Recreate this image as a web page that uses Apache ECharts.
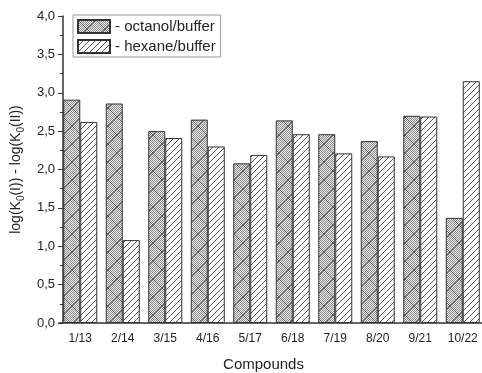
<!DOCTYPE html>
<html>
<head>
<meta charset="utf-8">
<script src="https://cdn.jsdelivr.net/npm/echarts@6/dist/echarts.min.js"></script>
<style>
  html, body { margin: 0; padding: 0; background: #fff; }
  #chart { width: 482px; height: 373px; }
</style>
</head>
<body>
<div id="chart"></div>
<script>
const categories = ['1/13', '2/14', '3/15', '4/16', '5/17', '6/18', '7/19', '8/20', '9/21', '10/22'];
const octanol = [2.91, 2.86, 2.50, 2.65, 2.08, 2.64, 2.46, 2.37, 2.70, 1.37];
const hexane = [2.62, 1.08, 2.41, 2.30, 2.19, 2.46, 2.21, 2.17, 2.69, 3.15];
const seriesNames = ['- octanol/buffer', '- hexane/buffer'];

// fill patterns drawn on small canvas tiles
function crossTile() {
    const c = document.createElement('canvas');
    c.width = 18; c.height = 18;
    const g = c.getContext('2d');
    g.fillStyle = '#ececec';
    g.fillRect(0, 0, 18, 18);
    g.fillStyle = '#8c8c8c';
    for (let y = 0; y < 18; y++) {
        for (let x = 0; x < 18; x++) {
            if ((x + y) % 2 === 0) g.fillRect(x, y, 1, 1);
        }
    }
    g.strokeStyle = '#444';
    g.lineWidth = 0.8;
    g.beginPath();
    g.moveTo(-1, -1); g.lineTo(19, 19);
    g.moveTo(-1, 19); g.lineTo(19, -1);
    g.stroke();
    return c;
}

function hatchTile() {
    const c = document.createElement('canvas');
    c.width = 6; c.height = 6;
    const g = c.getContext('2d');
    g.fillStyle = '#fff';
    g.fillRect(0, 0, 6, 6);
    g.strokeStyle = '#555';
    g.lineWidth = 1;
    g.beginPath();
    g.moveTo(-1, 7); g.lineTo(7, -1);
    g.moveTo(-1, 1); g.lineTo(1, -1);
    g.moveTo(5, 7); g.lineTo(7, 5);
    g.stroke();
    return c;
}

var chartDom = document.getElementById('chart');
var myChart = echarts.init(chartDom);
var option;

option = {
    animation: false,
    textStyle: { fontFamily: 'Liberation Sans, Arial, sans-serif', color: '#222' },
    grid: {
        left: 59,
        right: -2,
        top: 16,
        bottom: 50,
        outerBoundsMode: 'none'
    },
    legend: {
        orient: 'vertical',
        left: 73,
        top: 15,
        padding: [4, 5, 3, 4],
        itemGap: 5,
        itemWidth: 32,
        itemHeight: 13,
        icon: 'rect',
        borderColor: '#999',
        borderWidth: 1,
        textStyle: { fontSize: 15, color: '#222' },
        data: seriesNames
    },
    xAxis: [
        {
            type: 'category',
            data: categories,
            position: 'bottom',
            name: 'Compounds',
            nameLocation: 'middle',
            nameGap: 34,
            nameTextStyle: { fontSize: 15, color: '#222', padding: [0, 16, 0, 0] },
            axisLine: { lineStyle: { color: '#333', width: 1.5 } },
            axisTick: { length: 3, lineStyle: { color: '#333' } },
            axisLabel: { fontSize: 12, color: '#222', margin: 10 }
        },
        {
            type: 'category',
            data: categories,
            position: 'bottom',
            axisLine: { show: false },
            axisTick: { alignWithLabel: true, length: 5, lineStyle: { color: '#333' } },
            axisLabel: { show: false }
        }
    ],
    yAxis: {
        type: 'value',
        min: 0,
        max: 4,
        interval: 0.5,
        offset: -4,
        name: '{a|log(K}{s|0}{a|(I)) - log(K}{s|0}{a|(II))}',
        nameLocation: 'middle',
        nameGap: 35,
        nameTextStyle: {
            rich: {
                a: { fontSize: 14, color: '#222', lineHeight: 20, verticalAlign: 'middle' },
                s: { fontSize: 10, color: '#222', lineHeight: 10, verticalAlign: 'bottom' }
            }
        },
        splitLine: { show: false },
        axisLine: { show: true, lineStyle: { color: '#333', width: 1.5 } },
        axisTick: { show: true, length: 5, lineStyle: { color: '#333' } },
        minorTick: { show: true, splitNumber: 2, length: 3, lineStyle: { color: '#333' } },
        axisLabel: {
            fontSize: 13,
            color: '#222',
            margin: 8,
            formatter: (value) => value.toFixed(1).replace('.', ',')
        }
    },
    series: [
        {
            name: seriesNames[0],
            type: 'bar',
            data: octanol,
            barWidth: 17,
            barGap: '0%',
            itemStyle: {
                color: { image: crossTile(), repeat: 'repeat' },
                borderColor: '#333',
                borderWidth: 1
            }
        },
        {
            name: seriesNames[1],
            type: 'bar',
            data: hexane,
            barWidth: 17,
            barGap: '0%',
            itemStyle: {
                color: { image: hatchTile(), repeat: 'repeat' },
                borderColor: '#333',
                borderWidth: 1
            }
        }
    ]
};

option && myChart.setOption(option);
</script>
</body>
</html>
